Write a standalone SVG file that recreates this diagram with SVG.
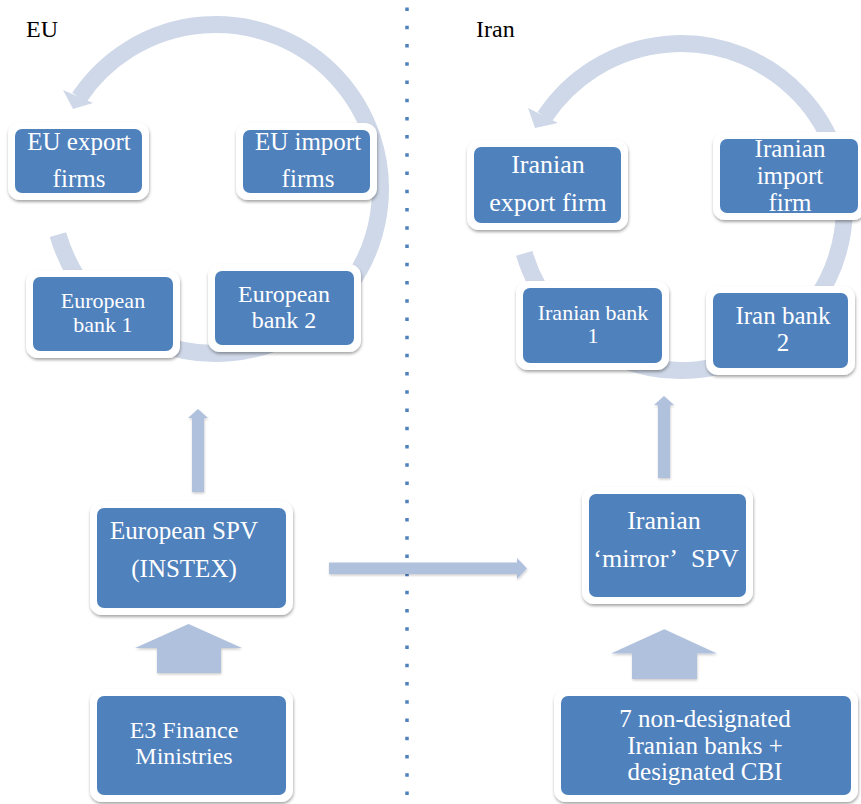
<svg xmlns="http://www.w3.org/2000/svg" width="861" height="804" viewBox="0 0 861 804">
<defs>
<filter id="sh" x="-10%" y="-10%" width="120%" height="130%">
<feDropShadow dx="0.5" dy="2" stdDeviation="1.8" flood-color="#000" flood-opacity="0.35"/>
</filter>
<filter id="ash" x="-10%" y="-10%" width="130%" height="130%">
<feDropShadow dx="0.5" dy="1.5" stdDeviation="1.2" flood-color="#000" flood-opacity="0.2"/>
</filter>
<style>
.out{fill:#fff;filter:url(#sh)}
.in{fill:#4f81bd}
.t{font-family:"Liberation Serif","Times New Roman",serif;fill:#fff;text-anchor:middle}
.h{font-family:"Liberation Serif","Times New Roman",serif;fill:#000;font-size:24px}
.ring{fill:none;stroke:#cfd8e8;stroke-width:17}
.rh{fill:#cfd8e8}
.ar{fill:#afc1dd;filter:url(#ash)}
</style>
</defs>
<rect width="861" height="804" fill="#fff"/>
<text class="h" x="26" y="37">EU</text>
<text class="h" x="476" y="37">Iran</text>
<line x1="407" y1="7.5" x2="407" y2="804" stroke="#4f81bd" stroke-width="3.5" stroke-dasharray="3.5 14.73"/>
<g id="connectors">
<path class="ring" d="M 57.95 234.6 A 164.5 164.5 0 1 0 79.3 97.5"/>
<polygon class="rh" points="63,90 73,109 93,103"/>
<path class="ring" d="M 524.2 253.4 A 163.5 163.5 0 1 0 544.7 116.8"/>
<polygon class="rh" points="528,108 535,128 558,123"/>
<polygon class="ar" points="192,492 192,418 188,418 198,409 208,418 204,418 204,492"/>
<polygon class="ar" points="658,478 658,405 654,405 664,396 674,405 670,405 670,478"/>
<polygon class="ar" points="329,562.5 517,562.5 517,558 527,568.5 517,579 517,574 329,574"/>
<polygon class="ar" points="157,673 157,648 135,648 188.5,624 242,648 221,648 221,673"/>
<polygon class="ar" points="632,679 632,653.5 611,653.5 664.3,629.3 717,653.5 697,653.5 697,679"/>
</g>
<g id="n1"><rect class="out" x="8" y="122" width="141" height="78" rx="12"/><rect class="in" x="15" y="129" width="127" height="64" rx="7"/>
<text class="t" font-size="25" x="79" y="150">EU export</text><text class="t" font-size="25" x="79" y="187">firms</text></g>
<g id="n2"><rect class="out" x="236" y="123" width="141" height="77" rx="12"/><rect class="in" x="243" y="130" width="127" height="63" rx="7"/>
<text class="t" font-size="25" x="308" y="150">EU import</text><text class="t" font-size="25" x="308" y="187">firms</text></g>
<g id="n3"><rect class="out" x="26" y="270" width="154" height="88" rx="12"/><rect class="in" x="33" y="277" width="140" height="74" rx="7"/>
<text class="t" font-size="22" x="103" y="308">European</text><text class="t" font-size="22" x="103" y="332">bank 1</text></g>
<g id="n4"><rect class="out" x="208" y="264" width="153" height="88" rx="12"/><rect class="in" x="215" y="271" width="139" height="74" rx="7"/>
<text class="t" font-size="24" x="284" y="302">European</text><text class="t" font-size="24" x="284" y="328">bank 2</text></g>
<g id="n5"><rect class="out" x="467" y="140" width="161" height="90" rx="12"/><rect class="in" x="474" y="147" width="147" height="76" rx="7"/>
<text class="t" font-size="26" x="548" y="173">Iranian</text><text class="t" font-size="26" x="548" y="211">export firm</text></g>
<g id="n6"><rect class="out" x="713" y="132" width="152" height="88" rx="12"/><rect class="in" x="720" y="139" width="138" height="74" rx="7"/>
<text class="t" font-size="25" x="790" y="157">Iranian</text><text class="t" font-size="25" x="790" y="184">import</text><text class="t" font-size="25" x="790" y="211">firm</text></g>
<g id="n7"><rect class="out" x="516" y="281" width="153" height="89" rx="12"/><rect class="in" x="523" y="288" width="139" height="75" rx="7"/>
<text class="t" font-size="22" x="593" y="320">Iranian bank</text><text class="t" font-size="22" x="593" y="343">1</text></g>
<g id="n8"><rect class="out" x="706" y="286" width="149" height="89" rx="12"/><rect class="in" x="713" y="293" width="135" height="75" rx="7"/>
<text class="t" font-size="25" x="783" y="324">Iran bank</text><text class="t" font-size="25" x="783" y="351">2</text></g>
<g id="n9"><rect class="out" x="90" y="501" width="203" height="114" rx="12"/><rect class="in" x="97" y="508" width="189" height="100" rx="7"/>
<text class="t" font-size="25" x="184" y="539">European SPV</text><text class="t" font-size="25" x="184" y="577">(INSTEX)</text></g>
<g id="n10"><rect class="out" x="90" y="689" width="203" height="113" rx="12"/><rect class="in" x="97" y="696" width="189" height="99" rx="7"/>
<text class="t" font-size="24" x="184" y="738">E3 Finance</text><text class="t" font-size="24" x="184" y="764">Ministries</text></g>
<g id="n11"><rect class="out" x="582" y="487" width="171" height="117" rx="12"/><rect class="in" x="589" y="494" width="157" height="103" rx="7"/>
<text class="t" font-size="26" x="664" y="529">Iranian</text><text class="t" font-size="26" x="666" y="567">‘mirror’&#160; SPV</text></g>
<g id="n12"><rect class="out" x="554" y="689" width="304" height="113" rx="12"/><rect class="in" x="561" y="696" width="290" height="99" rx="7"/>
<text class="t" font-size="25" x="705" y="727">7 non-designated</text><text class="t" font-size="25" x="705" y="754">Iranian banks +</text><text class="t" font-size="25" x="705" y="780">designated CBI</text></g>
</svg>
